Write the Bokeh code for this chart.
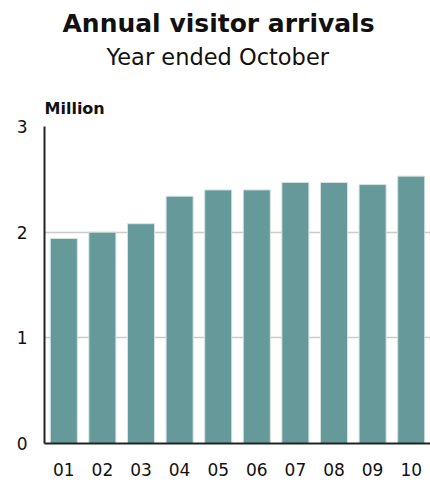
from bokeh.plotting import figure
from bokeh.models import FactorRange, Range1d, FixedTicker, Title, ColumnDataSource
from bokeh.embed import file_html
from bokeh.resources import INLINE

years = ["01", "02", "03", "04", "05", "06", "07", "08", "09", "10"]
arrivals = [1.94, 2.00, 2.08, 2.34, 2.40, 2.40, 2.47, 2.47, 2.45, 2.53]
y_ticks = [0, 1, 2, 3]

title_text = "Annual visitor arrivals"
subtitle_text = "Year ended October"
unit_text = "Million"

FONT = "DejaVu Sans"

p = figure(width=430, height=482, output_backend="svg", toolbar_location=None,
           x_range=FactorRange(factors=years, range_padding=0),
           y_range=Range1d(0, 3),
           min_border_left=44, min_border_right=0, min_border_top=126, min_border_bottom=39)
p.outline_line_color = None
p.background_fill_color = "white"
p.border_fill_color = "white"

src = ColumnDataSource(dict(x=years, top=arrivals))
p.vbar(x="x", top="top", bottom=0, width=0.7, source=src,
       fill_color="#669999", line_color="#d3e3e2", line_width=1)

p.xgrid.grid_line_color = None
p.ygrid.grid_line_color = "#cccccc"
p.ygrid.grid_line_width = 1.5
p.ygrid.ticker = FixedTicker(ticks=y_ticks)

p.yaxis.ticker = FixedTicker(ticks=y_ticks)
for ax in (p.xaxis[0], p.yaxis[0]):
    ax.axis_line_color = "#222222"
    ax.axis_line_width = 2
    ax.major_tick_line_color = None
    ax.minor_tick_line_color = None
    ax.major_tick_out = 0
    ax.major_tick_in = 0
    ax.minor_tick_out = 0
    ax.major_label_text_font = FONT
    ax.major_label_text_font_size = "17px"
    ax.major_label_text_color = "#111111"
p.xaxis.major_label_standoff = 19
p.yaxis.major_label_standoff = 17

p.add_layout(Title(text=unit_text, text_font=FONT, text_font_size="16px",
                   text_font_style="bold", text_color="#111111",
                   align="left", offset=0, standoff=17), "above")
p.add_layout(Title(text=subtitle_text, text_font=FONT, text_font_size="22.5px",
                   text_font_style="normal", text_color="#111111",
                   align="left", offset=62, standoff=37), "above")
p.add_layout(Title(text=title_text, text_font=FONT, text_font_size="25px",
                   text_font_style="bold", text_color="#111111",
                   align="left", offset=18, standoff=-28), "above")

open("out.html", "w").write(file_html(p, INLINE))
